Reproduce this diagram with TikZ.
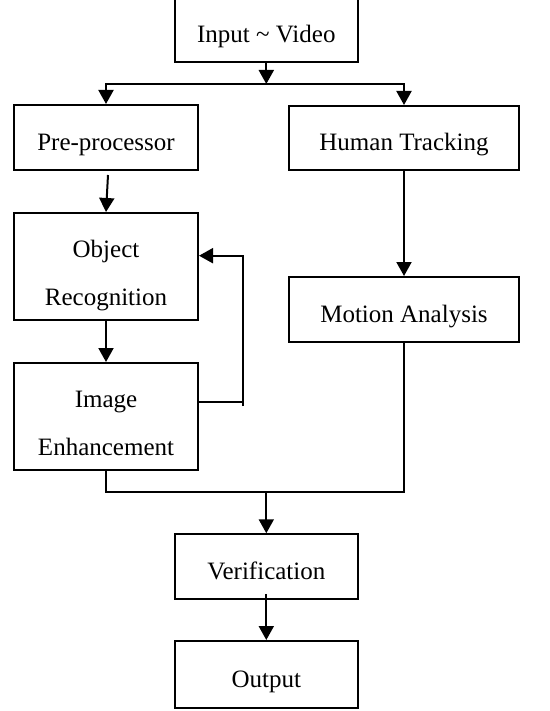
\documentclass[tikz,border=0pt]{standalone}
\usepackage{fontspec}
\setmainfont{Liberation Serif}
\usetikzlibrary{arrows.meta}
\begin{document}
\begin{tikzpicture}[x=1pt,y=-1pt,
  blk/.style={draw,line width=2pt,rectangle,inner sep=0pt,align=center,
    font=\fontsize{25}{47.3}\selectfont},
  oneline/.style={blk,text height=32.4pt,text depth=6.4pt},
  twoline/.style={blk,text height=83.4pt,text depth=6.4pt},
  link/.style={line width=2pt},
  arr/.style={link,-{Triangle[width=15pt,length=14pt]}}]
\useasboundingbox (0,0) rectangle (549,711);
% boxes
\node[oneline,minimum width=183.5pt,minimum height=65pt] (inp) at (266.3,29.5) {Input \textasciitilde{} Video};
\node[oneline,minimum width=184pt,minimum height=65pt] (pre) at (106,137.5) {Pre-processor};
\node[oneline,minimum width=230pt,minimum height=64pt] (ht) at (404,138) {Human Tracking};
\node[twoline,minimum width=184pt,minimum height=107pt] (obj) at (106,266.5) {Object\\Recognition};
\node[oneline,minimum width=230pt,minimum height=65pt] (mot) at (404,309.5) {Motion Analysis};
\node[twoline,minimum width=184pt,minimum height=107pt] (img) at (106,416.5) {Image\\Enhancement};
\node[oneline,minimum width=183.5pt,minimum height=64.5pt] (ver) at (266.3,566.5) {Verification};
\node[oneline,minimum width=183.5pt,minimum height=67pt] (out) at (266.3,674.5) {Output};
% junction points
\coordinate (split) at (266.3,84);
\coordinate (fbMid) at (243,401.7);
\coordinate (fbLow) at (243,406);
\coordinate (fbTop) at (243,255.7);
\coordinate (mrgR) at (404,491.7);
\coordinate (mrg) at (266.3,491.7);
% connectors
\draw[arr] (inp.south) -- (split);
\draw[arr] (split) -| (pre.north);
\draw[arr] (split) -| (ht.north);
\draw[arr] ([xshift=2pt,yshift=-4pt]pre.south) -- (obj.north);
\draw[arr] (obj.south) -- (img.north);
\draw[link] (fbMid -| img.east) -- (fbMid);
\draw[arr] (fbLow) -- (fbTop) -- (fbTop -| obj.east);
\draw[arr] (ht.south) -- (mot.north);
\draw[link] (mot.south) -- (mrgR) -| (img.south);
\draw[arr] (mrg) -- (ver.north);
\draw[arr] ([yshift=6pt]ver.south) -- (out.north);
\end{tikzpicture}
\end{document}
